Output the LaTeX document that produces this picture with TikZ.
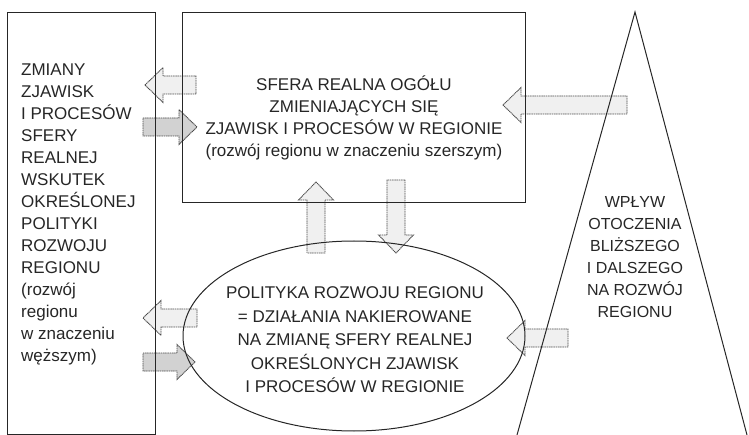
\documentclass[tikz,border=0pt]{standalone}
\usepackage{fontspec}
\setmainfont{Liberation Sans}
\usetikzlibrary{calc,shapes.geometric}
\tikzset{
  frame/.style={draw=black!85, line width=1pt},
  txt/.style={text=black!85, font=\fontsize{17}{22}\selectfont, align=center, inner sep=0pt},
  arrowline/.style={draw=black!70, line width=0.9pt, dash pattern=on 1.2pt off 0.6pt},
  lightfill/.style={fill=gray!12},
  darkfill/.style={fill=gray!35},
}
% block arrow: #1 fill style, #2 tail coordinate, #3 tip coordinate
\newcommand\blockarrow[3]{%
  \coordinate (#2-h) at ($(#3)!18pt!(#2)$);
  \filldraw[arrowline,#1]
    ($(#2)!9pt!90:(#3)$) -- ($(#2-h)!9pt!90:(#3)$) -- ($(#2-h)!17.5pt!90:(#3)$)
    -- (#3) -- ($(#2-h)!17.5pt!-90:(#3)$) -- ($(#2-h)!9pt!-90:(#3)$)
    -- ($(#2)!9pt!-90:(#3)$) -- cycle;
}
\begin{document}
\begin{tikzpicture}[x=1pt, y=-1pt]
\useasboundingbox (0,0) rectangle (749,435);

% arrow end points
\coordinate (a1t) at (196,85);  \coordinate (a1p) at (145,85);
\coordinate (a2t) at (143,127); \coordinate (a2p) at (197,127);
\coordinate (a3t) at (197,318); \coordinate (a3p) at (143,318);
\coordinate (a4t) at (143,362); \coordinate (a4p) at (195,362);
\coordinate (a5t) at (316,253); \coordinate (a5p) at (316,182);
\coordinate (a6t) at (396,180); \coordinate (a6p) at (396,253);
\coordinate (a7t) at (627,105); \coordinate (a7p) at (503,105);
\coordinate (a8t) at (568,338); \coordinate (a8p) at (507,338);

\blockarrow{lightfill}{a1t}{a1p}
\blockarrow{darkfill}{a2t}{a2p}
\blockarrow{lightfill}{a3t}{a3p}
\blockarrow{darkfill}{a4t}{a4p}
\blockarrow{lightfill}{a5t}{a5p}
\blockarrow{lightfill}{a6t}{a6p}
\blockarrow{lightfill}{a7t}{a7p}
\blockarrow{lightfill}{a8t}{a8p}

% frames
\node[frame, minimum width=148pt, minimum height=421pt, inner sep=0pt] (left) at (81,223.5) {};
\node[frame, minimum width=343pt, minimum height=190pt, inner sep=0pt] (sfera) at (353.5,108) {};
\node[frame, ellipse, minimum width=342pt, minimum height=190pt, inner sep=0pt] (polityka) at (354,336) {};
\coordinate (apex) at (635,12);
\coordinate (baseL) at (517,435);
\coordinate (baseR) at (747,435);
\draw[frame] (baseL) -- (apex) -- (baseR);

% texts
\node[txt, align=left, anchor=west] (zmiany) at (21,214)
  {ZMIANY\\ZJAWISK\\I PROCESÓW\\SFERY\\REALNEJ\\WSKUTEK\\OKREŚLONEJ\\POLITYKI\\ROZWOJU\\REGIONU\\(rozwój\\regionu\\w znaczeniu\\węższym)};
\node[txt] (sferatxt) at (354,118)
  {SFERA REALNA OGÓŁU\\ZMIENIAJĄCYCH SIĘ\\ZJAWISK I PROCESÓW W REGIONIE\\(rozwój regionu w znaczeniu szerszym)};
\node[txt, font=\fontsize{17}{23.5}\selectfont] (polityktxt) at (355,340)
  {POLITYKA ROZWOJU REGIONU\\= DZIAŁANIA NAKIEROWANE\\NA ZMIANĘ SFERY REALNEJ\\OKREŚLONYCH ZJAWISK\\I PROCESÓW W REGIONIE};
\node[txt, font=\fontsize{16}{22}\selectfont] (wplyw) at (635,257)
  {WPŁYW\\OTOCZENIA\\BLIŻSZEGO\\I DALSZEGO\\NA ROZWÓJ\\REGIONU};
\end{tikzpicture}
\end{document}
